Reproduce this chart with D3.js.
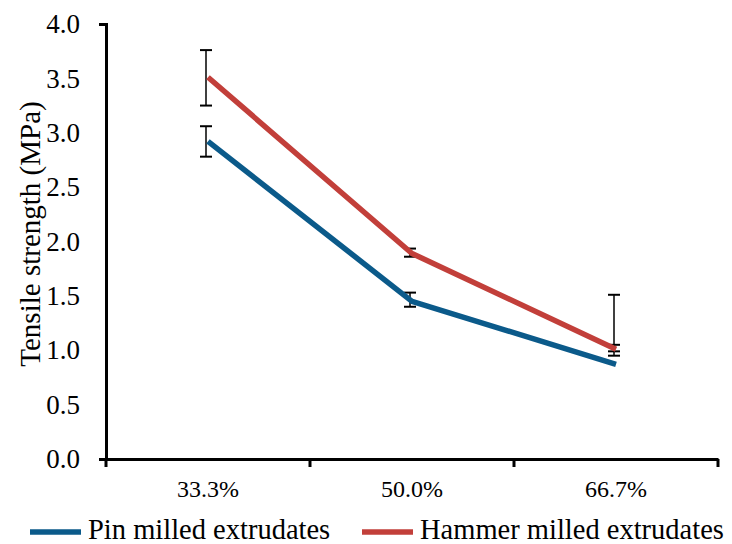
<!DOCTYPE html>
<html>
<head>
<script src="https://cdn.jsdelivr.net/npm/d3@7"></script>
</head>
<body style="margin:0">
<svg id="chart" width="732" height="544"></svg>
<script>
const categories = ["33.3%", "50.0%", "66.7%"];
const pinValues = [2.92, 1.45, 0.87];
const hammerValues = [3.51, 1.89, 1.01];
const pinErrLow = [2.78, 1.40, 0.95];
const pinErrHigh = [3.06, 1.53, 1.05];
const hammerErrLow = [3.25, 1.86, 0.99];
const hammerErrHigh = [3.76, 1.935, 1.51];
const yTicks = [0, 0.5, 1, 1.5, 2, 2.5, 3, 3.5, 4];
const seriesNames = ["Pin milled extrudates", "Hammer milled extrudates"];

const svg = d3.select("#chart");
const mLeft = 106, mRight = 718, mTop = 24, mBottom = 459;

function applySerif(sel, size) {
  sel.attr("font-family", "Liberation Serif")
    .attr("style", "font-family:'Liberation Serif' !important; font-size:" + size + "px !important")
    .attr("fill", "#000");
}

const x = d3.scaleBand().domain(categories).range([mLeft, mRight]);
const y = d3.scaleLinear().domain([0, 4]).range([mBottom, mTop]);
const cx = d => x(d) + x.bandwidth() / 2;

const series = [
  { name: seriesNames[0], values: pinValues, lo: pinErrLow, hi: pinErrHigh, color: "#0B5A8A" },
  { name: seriesNames[1], values: hammerValues, lo: hammerErrLow, hi: hammerErrHigh, color: "#C23F3A" }
];

// error bars
series.forEach(s => {
  const g = svg.append("g");
  categories.forEach((c, i) => {
    const xc = cx(c) - 2;
    g.append("line").attr("x1", xc).attr("x2", xc)
      .attr("y1", y(s.lo[i])).attr("y2", y(s.hi[i]))
      .attr("stroke", "#000").attr("stroke-width", 1.5);
    [s.lo[i], s.hi[i]].forEach(v => {
      g.append("line").attr("x1", xc - 6).attr("x2", xc + 6)
        .attr("y1", y(v)).attr("y2", y(v))
        .attr("stroke", "#000").attr("stroke-width", 2);
    });
  });
});

// lines
const line = d3.line().x((d, i) => cx(categories[i])).y(d => y(d));
series.forEach(s => {
  svg.append("path").datum(s.values)
    .attr("d", line)
    .attr("fill", "none")
    .attr("stroke", s.color)
    .attr("stroke-width", 5.5)
    .attr("stroke-linejoin", "round");
});

// y axis
const yAxis = d3.axisLeft(y).tickValues(yTicks).tickFormat(d3.format(".1f"))
  .tickSizeInner(0).tickSizeOuter(7).tickPadding(26);
const gy = svg.append("g").attr("transform", `translate(${mLeft},0)`).call(yAxis);
gy.attr("font-family", "Liberation Serif").attr("font-size", null);
gy.select(".domain").attr("stroke", "#000").attr("stroke-width", 3);
applySerif(gy.selectAll("text"), 27);

// x axis
const xAxis = d3.axisBottom(x).tickSize(0).tickPadding(21);
const gx = svg.append("g").attr("transform", `translate(0,${mBottom})`).call(xAxis);
gx.attr("font-family", "Liberation Serif").attr("font-size", null);
gx.select(".domain").attr("stroke", "#000").attr("stroke-width", 3);
applySerif(gx.selectAll("text"), 24);
const bounds = categories.map(c => x(c)).concat([mRight]);
gx.selectAll(".bt").data(bounds).enter().append("line")
  .attr("x1", d => d).attr("x2", d => d).attr("y1", 0).attr("y2", 8)
  .attr("stroke", "#000").attr("stroke-width", 3);

// y axis title
const title = svg.append("text")
  .attr("transform", `translate(40,234) rotate(-90)`)
  .attr("text-anchor", "middle")
  .text("Tensile strength (MPa)");
applySerif(title, 29);

// legend
const legendItems = [
  { s: series[0], lx: 30, tx: 88 },
  { s: series[1], lx: 362, tx: 420 }
];
legendItems.forEach(it => {
  svg.append("line").attr("x1", it.lx).attr("x2", it.lx + 51)
    .attr("y1", 532).attr("y2", 532)
    .attr("stroke", it.s.color).attr("stroke-width", 5.5);
  const t = svg.append("text").attr("x", it.tx).attr("y", 539).text(it.s.name);
  applySerif(t, 28.5);
});
</script>
</body>
</html>
